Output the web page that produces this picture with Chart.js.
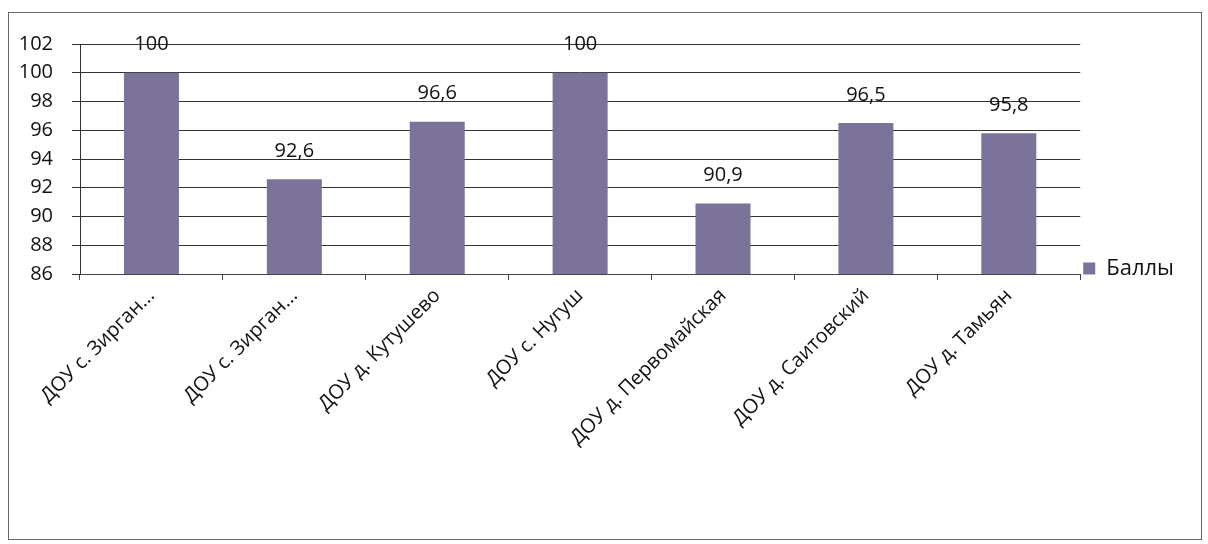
<!DOCTYPE html>
<html lang="ru">
<head>
    <meta charset="UTF-8">
    <title>Баллы ДОУ</title>
    <style>
        html, body { margin: 0; padding: 0; background: #fff; }
        #frame {
            position: absolute;
            left: 8px;
            top: 12px;
            width: 1192px;
            height: 526px;
            border: 1px solid #666;
        }
    </style>
</head>
<body>
    <div id="frame">
        <canvas id="chart" width="1192" height="526"></canvas>
    </div>

    <script src="https://cdn.jsdelivr.net/npm/chart.js"></script>
    <script>
        // data
        const categories = [
            'ДОУ с. Зирган...',
            'ДОУ с. Зирган...',
            'ДОУ д. Кутушево',
            'ДОУ с. Нугуш',
            'ДОУ д. Первомайская',
            'ДОУ д. Саитовский',
            'ДОУ д. Тамьян'
        ];
        const scores = [100, 92.6, 96.6, 100, 90.9, 96.5, 95.8];
        const seriesName = 'Баллы';

        const fontFamily = "'Open Sans', 'Liberation Sans', sans-serif";

        // value labels above the bars, decimal comma as in the original
        const valueLabels = {
            id: 'valueLabels',
            afterDatasetsDraw(chart) {
                const ctx = chart.ctx;
                const meta = chart.getDatasetMeta(0);
                ctx.save();
                ctx.font = '20px ' + fontFamily;
                ctx.fillStyle = '#111';
                ctx.textAlign = 'center';
                ctx.textBaseline = 'middle';
                meta.data.forEach((bar, i) => {
                    const txt = String(scores[i]).replace('.', ',');
                    ctx.fillText(txt, bar.x, bar.y - 28);
                });
                ctx.restore();
            }
        };

        new Chart(document.getElementById('chart'), {
            type: 'bar',
            data: {
                labels: categories,
                datasets: [{
                    label: seriesName,
                    data: scores,
                    backgroundColor: '#7b7399',
                    borderWidth: 0,
                    barPercentage: 0.77,
                    categoryPercentage: 0.5
                }]
            },
            options: {
                responsive: false,
                animation: false,
                layout: {
                    padding: { top: 29, right: 17, bottom: 44, left: 0 }
                },
                plugins: {
                    tooltip: { enabled: false },
                    legend: {
                        position: 'right',
                        labels: {
                            color: '#111',
                            font: { family: fontFamily, size: 22 },
                            boxWidth: 12,
                            boxHeight: 12,
                            padding: 3
                        }
                    }
                },
                scales: {
                    x: {
                        grid: {
                            drawOnChartArea: false,
                            drawTicks: true,
                            tickLength: 6,
                            color: '#444'
                        },
                        border: { color: '#444' },
                        ticks: {
                            autoSkip: false,
                            minRotation: 45,
                            maxRotation: 45,
                            padding: 4,
                            color: '#111',
                            font: { family: fontFamily, size: 20 }
                        },
                        afterFit(scale) {
                            scale.height = 221;
                        }
                    },
                    y: {
                        min: 86,
                        max: 102,
                        grid: {
                            color: '#333',
                            tickLength: 8
                        },
                        border: { color: '#333' },
                        ticks: {
                            stepSize: 2,
                            padding: 19,
                            color: '#111',
                            font: { family: fontFamily, size: 20 }
                        },
                        afterFit(scale) {
                            scale.width = 71;
                        }
                    }
                }
            },
            plugins: [valueLabels]
        });
    </script>
</body>
</html>
